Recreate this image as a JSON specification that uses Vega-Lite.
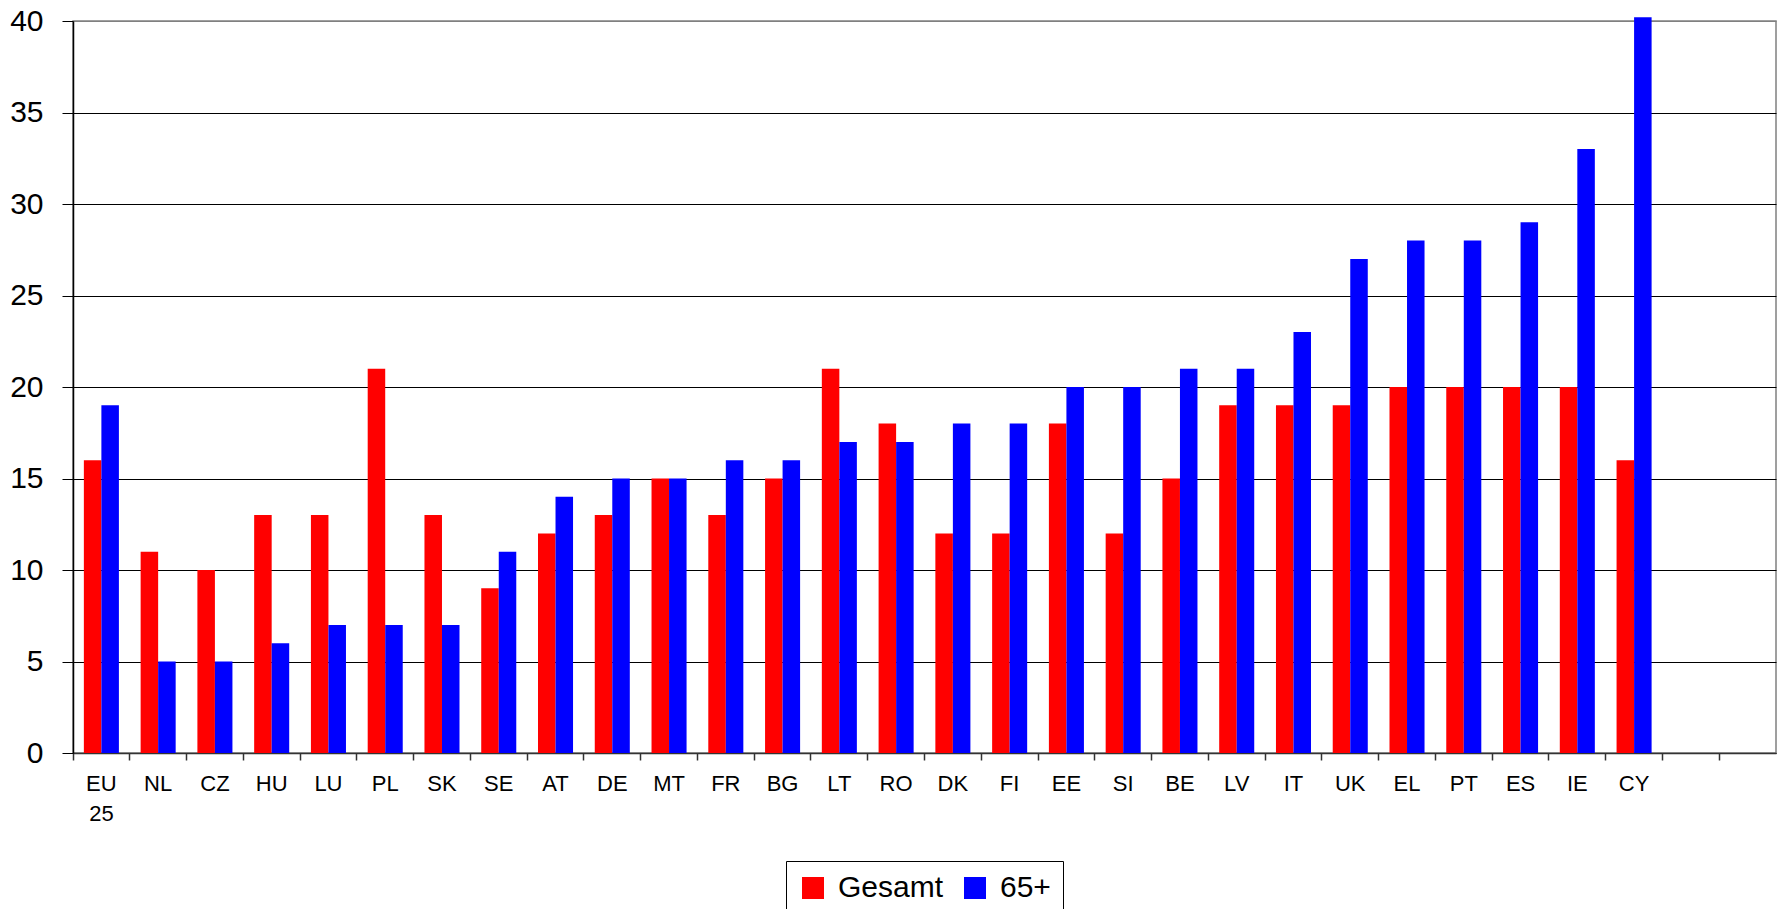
{
  "$schema": "https://vega.github.io/schema/vega-lite/v6.json",
  "width": 1703,
  "height": 732,
  "autosize": {"type": "none"},
  "padding": {"left": 73, "top": 21, "right": 5, "bottom": 156},
  "background": "white",
  "config": {
    "font": "Liberation Sans",
    "view": {"stroke": "#808080", "strokeWidth": 1.5}
  },
  "data": {
    "values": [
      {"country": "EU 25", "series": "Gesamt", "value": 16}, {"country": "EU 25", "series": "65+", "value": 19},
      {"country": "NL", "series": "Gesamt", "value": 11}, {"country": "NL", "series": "65+", "value": 5},
      {"country": "CZ", "series": "Gesamt", "value": 10}, {"country": "CZ", "series": "65+", "value": 5},
      {"country": "HU", "series": "Gesamt", "value": 13}, {"country": "HU", "series": "65+", "value": 6},
      {"country": "LU", "series": "Gesamt", "value": 13}, {"country": "LU", "series": "65+", "value": 7},
      {"country": "PL", "series": "Gesamt", "value": 21}, {"country": "PL", "series": "65+", "value": 7},
      {"country": "SK", "series": "Gesamt", "value": 13}, {"country": "SK", "series": "65+", "value": 7},
      {"country": "SE", "series": "Gesamt", "value": 9}, {"country": "SE", "series": "65+", "value": 11},
      {"country": "AT", "series": "Gesamt", "value": 12}, {"country": "AT", "series": "65+", "value": 14},
      {"country": "DE", "series": "Gesamt", "value": 13}, {"country": "DE", "series": "65+", "value": 15},
      {"country": "MT", "series": "Gesamt", "value": 15}, {"country": "MT", "series": "65+", "value": 15},
      {"country": "FR", "series": "Gesamt", "value": 13}, {"country": "FR", "series": "65+", "value": 16},
      {"country": "BG", "series": "Gesamt", "value": 15}, {"country": "BG", "series": "65+", "value": 16},
      {"country": "LT", "series": "Gesamt", "value": 21}, {"country": "LT", "series": "65+", "value": 17},
      {"country": "RO", "series": "Gesamt", "value": 18}, {"country": "RO", "series": "65+", "value": 17},
      {"country": "DK", "series": "Gesamt", "value": 12}, {"country": "DK", "series": "65+", "value": 18},
      {"country": "FI", "series": "Gesamt", "value": 12}, {"country": "FI", "series": "65+", "value": 18},
      {"country": "EE", "series": "Gesamt", "value": 18}, {"country": "EE", "series": "65+", "value": 20},
      {"country": "SI", "series": "Gesamt", "value": 12}, {"country": "SI", "series": "65+", "value": 20},
      {"country": "BE", "series": "Gesamt", "value": 15}, {"country": "BE", "series": "65+", "value": 21},
      {"country": "LV", "series": "Gesamt", "value": 19}, {"country": "LV", "series": "65+", "value": 21},
      {"country": "IT", "series": "Gesamt", "value": 19}, {"country": "IT", "series": "65+", "value": 23},
      {"country": "UK", "series": "Gesamt", "value": 19}, {"country": "UK", "series": "65+", "value": 27},
      {"country": "EL", "series": "Gesamt", "value": 20}, {"country": "EL", "series": "65+", "value": 28},
      {"country": "PT", "series": "Gesamt", "value": 20}, {"country": "PT", "series": "65+", "value": 28},
      {"country": "ES", "series": "Gesamt", "value": 20}, {"country": "ES", "series": "65+", "value": 29},
      {"country": "IE", "series": "Gesamt", "value": 20}, {"country": "IE", "series": "65+", "value": 33},
      {"country": "CY", "series": "Gesamt", "value": 16}, {"country": "CY", "series": "65+", "value": 40.2}
    ]
  },
  "resolve": {"axis": {"x": "independent"}},
  "layer": [
    {
      "mark": {"type": "bar", "clip": false},
      "encoding": {
        "x": {
          "field": "country",
          "type": "nominal",
          "scale": {
            "domain": ["EU 25", "NL", "CZ", "HU", "LU", "PL", "SK", "SE", "AT", "DE", "MT", "FR", "BG", "LT", "RO", "DK", "FI", "EE", "SI", "BE", "LV", "IT", "UK", "EL", "PT", "ES", "IE", "CY", "_a", "_b"],
            "paddingInner": 0,
            "paddingOuter": 0
          },
          "axis": {
            "title": null,
            "orient": "bottom",
            "labelAngle": 0,
            "labelFontSize": 22,
            "labelColor": "#000",
            "labelPadding": 20,
            "labelLineHeight": 30,
            "labelExpr": "datum.value == 'EU 25' ? ['EU', '25'] : (indexof(datum.value, '_') == 0 ? '' : datum.value)",
            "ticks": false,
            "domainColor": "#333",
            "domainWidth": 1.5,
            "grid": false
          }
        },
        "xOffset": {
          "field": "series",
          "type": "nominal",
          "scale": {"domain": ["Gesamt", "65+"], "paddingInner": 0, "paddingOuter": 0.62}
        },
        "y": {
          "field": "value",
          "type": "quantitative",
          "scale": {"domain": [0, 40], "nice": false},
          "axis": {
            "title": null,
            "values": [0, 5, 10, 15, 20, 25, 30, 35, 40],
            "labelFontSize": 30,
            "labelColor": "#000",
            "labelPadding": 19,
            "tickSize": 11,
            "tickColor": "#000",
            "domainColor": "#000",
            "domainWidth": 1.5,
            "grid": true,
            "gridColor": {"condition": {"test": "datum.value == 40", "value": "#808080"}, "value": "#000"},
            "gridWidth": 1
          }
        },
        "color": {
          "field": "series",
          "type": "nominal",
          "scale": {"domain": ["Gesamt", "65+"], "range": ["#FF0000", "#0000FF"]},
          "legend": {
            "title": null,
            "orient": "none",
            "legendX": 713,
            "legendY": 840,
            "direction": "horizontal",
            "strokeColor": "#000",
            "fillColor": "#fff",
            "padding": 12,
            "symbolType": "square",
            "symbolSize": 484,
            "symbolStrokeWidth": 0,
            "labelFontSize": 30,
            "labelColor": "#000",
            "labelOffset": 10,
            "columnPadding": 16
          }
        }
      }
    },
    {
      "mark": {"type": "bar", "opacity": 0},
      "encoding": {
        "x": {
          "field": "country",
          "type": "nominal",
          "axis": {
            "title": null,
            "orient": "bottom",
            "labels": false,
            "domain": false,
            "grid": false,
            "ticks": true,
            "bandPosition": 0,
            "tickSize": 7,
            "tickColor": "#333",
            "tickWidth": 1.5
          }
        },
        "y": {"field": "value", "type": "quantitative"}
      }
    }
  ]
}
